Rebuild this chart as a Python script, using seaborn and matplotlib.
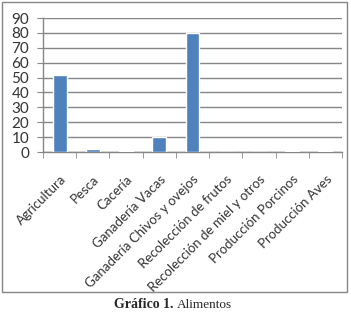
import numpy as np
import pandas as pd
import seaborn as sns
import matplotlib.pyplot as plt
from matplotlib.patches import Rectangle

categorias = ['Agricultura', 'Pesca', 'Cacería', 'Ganadería Vacas',
              'Ganadería Chivos y ovejos', 'Recolección de frutos',
              'Recolección de miel y otros', 'Producción Porcinos', 'Producción Aves']
valores = [52, 2, 1, 10, 80, 0, 0, 1, 1]

df = pd.DataFrame({'categoria': categorias, 'valor': valores})

sns.set_style('white')
plt.rcParams['font.family'] = ['Lato', 'DejaVu Sans']

fig = plt.figure(figsize=(3.51, 3.15), dpi=100)
ax = fig.add_axes([43 / 351, 1 - 152 / 315, (342 - 43) / 351, (152 - 18) / 315])

sns.barplot(data=df, x='categoria', y='valor', color='#4f81bd', width=0.42,
            saturation=1, ax=ax, zorder=3)

ax.set_ylim(0, 90)
ax.set_xlim(-0.5, len(categorias) - 0.5)
ax.set_yticks(range(0, 91, 10))
ax.yaxis.grid(True, color='#868686', linewidth=1)
ax.set_axisbelow(True)
ax.set_xlabel('')
ax.set_ylabel('')

for s in ['top', 'right']:
    ax.spines[s].set_visible(False)
for s in ['left', 'bottom']:
    ax.spines[s].set_color('#868686')
    ax.spines[s].set_linewidth(1)

ax.tick_params(axis='y', labelsize=11, length=4, color='#868686', left=True, pad=6,
               labelcolor='#333333')
ax.set_xticks(np.arange(-0.5, len(categorias)), minor=True)
ax.tick_params(axis='x', which='minor', length=4, color='#868686', bottom=True)
ax.tick_params(axis='x', which='major', length=0, pad=15)
ax.set_xticklabels(categorias, rotation=45, ha='right', rotation_mode='anchor',
                   fontsize=9.5, color='#333333')

fig.patches.append(Rectangle((2 / 351, 1 - 292 / 315), 345 / 351, 290 / 315,
                             transform=fig.transFigure, fill=False,
                             edgecolor='#868686', linewidth=1))

fig.text(174 / 351, 1 - 305 / 315, 'Gráfico 1.', ha='right', va='center',
         fontsize=10, fontweight='bold', family='Liberation Serif')
fig.text(177 / 351, 1 - 305 / 315, 'Alimentos', ha='left', va='center',
         fontsize=9.5, family='Liberation Serif')

fig.savefig('out.png', dpi=100)
